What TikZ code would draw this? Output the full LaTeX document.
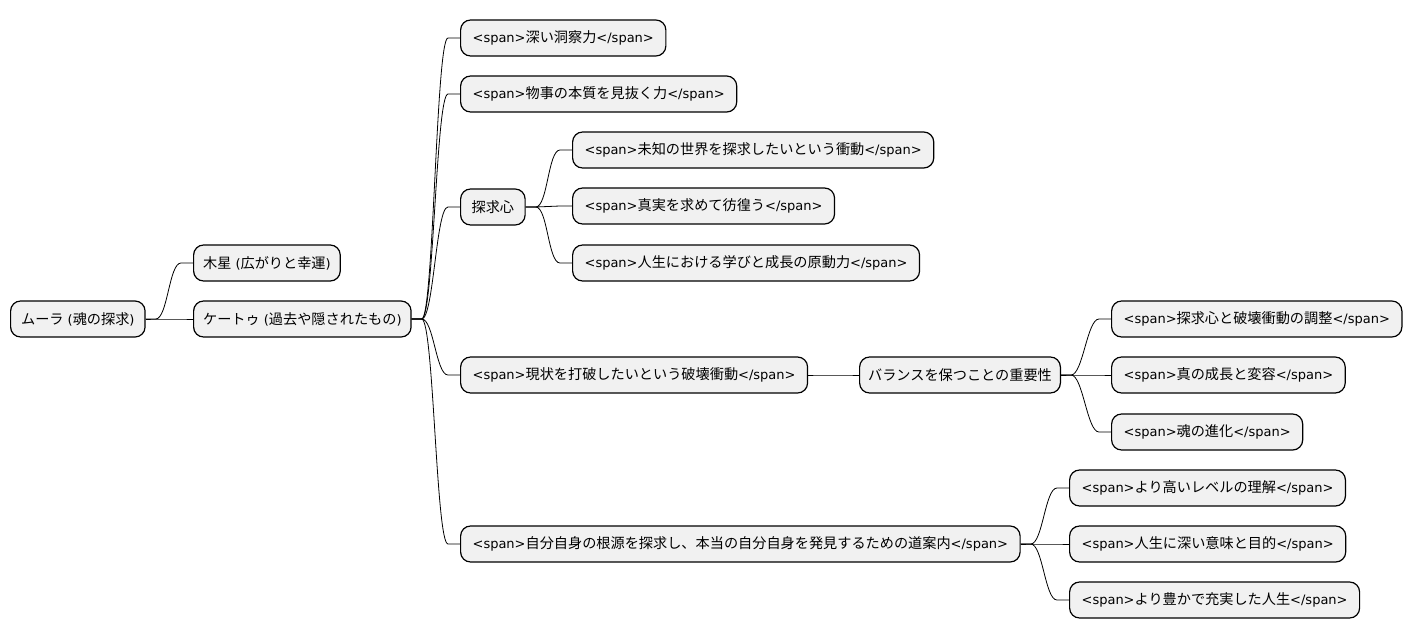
\documentclass[tikz,border=0pt]{standalone}
\usepackage{fontspec}
\setmainfont{DejaVu Sans}
\newfontfamily\jp{Noto Sans CJK JP}[Scale=1.09]
\newcommand{\spn}[1]{<span>{\jp #1}</span>}
\usetikzlibrary{calc}
\tikzset{
  box/.style={draw=black, line width=1.2pt, fill=black!5.5, rounded corners=10pt,
    minimum height=36pt, inner xsep=12pt, inner ysep=0pt, anchor=west, font=\fontsize{13}{15}\selectfont},
  mm/.style={to path={-- ++(10,0) .. controls +(12,0) and ($(\tikztotarget)+(-24,0)$) .. ($(\tikztotarget)+(-12,0)$) -- (\tikztotarget)}},
  link/.style={line width=0.8pt, black}
}
\begin{document}
\begin{tikzpicture}[x=1pt,y=-1pt]
\useasboundingbox (0,0) rectangle (1415,640);
\node[box, inner xsep=10.5pt] (root) at (10,319) {{\jp ムーラ} ({\jp 魂の探求})};
\node[box, inner xsep=9.5pt] (jup) at (193,263) {{\jp 木星} ({\jp 広がりと幸運})};
\node[box, inner xsep=9.5pt] (ket) at (193,319) {{\jp ケートゥ} ({\jp 過去や隠されたもの})};
\node[box] (a1) at (460,38) {\spn{深い洞察力}};
\node[box] (a2) at (460,94) {\spn{物事の本質を見抜く力}};
\node[box, inner xsep=11pt] (a3) at (460,207) {{\jp 探求心}};
\node[box] (b1) at (572,150) {\spn{未知の世界を探求したいという衝動}};
\node[box] (b2) at (572,206) {\spn{真実を求めて彷徨う}};
\node[box] (b3) at (572,263) {\spn{人生における学びと成長の原動力}};
\node[box] (a4) at (460,375) {\spn{現状を打破したいという破壊衝動}};
\node[box, inner xsep=8.5pt] (c0) at (859,375) {{\jp バランスを保つことの重要性}};
\node[box] (c1) at (1111,319) {\spn{探求心と破壊衝動の調整}};
\node[box] (c2) at (1111,375) {\spn{真の成長と変容}};
\node[box] (c3) at (1111,432) {\spn{魂の進化}};
\node[box] (a5) at (460,544) {\spn{自分自身の根源を探求し、本当の自分自身を発見するための道案内}};
\node[box] (d1) at (1069,488) {\spn{より高いレベルの理解}};
\node[box] (d2) at (1069,544) {\spn{人生に深い意味と目的}};
\node[box] (d3) at (1069,600) {\spn{より豊かで充実した人生}};
\draw[link] (root.east) to[mm] (jup.west);
\draw[link] (root.east) to[mm] (ket.west);
\foreach \t in {a1,a2,a3,a4,a5} \draw[link] (ket.east) to[mm] (\t.west);
\foreach \t in {b1,b2,b3} \draw[link] (a3.east) to[mm] (\t.west);
\draw[link] (a4.east) to[mm] (c0.west);
\foreach \t in {c1,c2,c3} \draw[link] (c0.east) to[mm] (\t.west);
\foreach \t in {d1,d2,d3} \draw[link] (a5.east) to[mm] (\t.west);
\end{tikzpicture}
\end{document}
